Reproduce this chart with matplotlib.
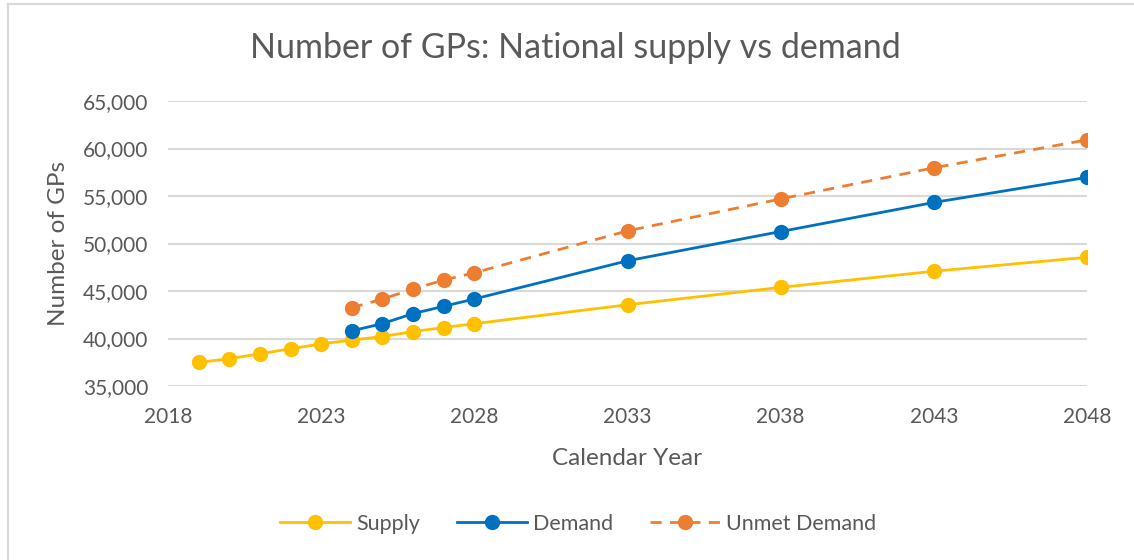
import matplotlib.pyplot as plt
from matplotlib.lines import Line2D
from matplotlib.ticker import FuncFormatter

# Dati
supply_years = [2019, 2020, 2021, 2022, 2023, 2024, 2025, 2026, 2027, 2028, 2033, 2038, 2043, 2048]
supply = [37480, 37870, 38390, 38920, 39440, 39830, 40210, 40730, 41150, 41560, 43550, 45380, 47080, 48550]

demand_years = [2024, 2025, 2026, 2027, 2028, 2033, 2038, 2043, 2048]
demand = [40800, 41570, 42620, 43390, 44160, 48180, 51260, 54320, 56960]
unmet = [43250, 44150, 45210, 46150, 46920, 51330, 54690, 57970, 60910]

x_ticks = [2018, 2023, 2028, 2033, 2038, 2043, 2048]
y_ticks = [35000, 40000, 45000, 50000, 55000, 60000, 65000]

plt.rcParams['font.family'] = ['Lato', 'DejaVu Sans']
grey_text = '#595959'

fig = plt.figure(figsize=(11.34, 5.6), dpi=100)
ax = fig.add_axes([168 / 1134, 1 - 386 / 560, (1087 - 168) / 1134, (386 - 101) / 560])

ax.plot(supply_years, supply, color='#FFC000', lw=2, marker='o', ms=10, label='Supply', zorder=3)
ax.plot(demand_years, demand, color='#0070C0', lw=2, marker='o', ms=10, label='Demand', zorder=4)
ax.plot(demand_years, unmet, color='#ED7D31', lw=2, marker='o', ms=10, ls=(0, (4, 3)),
        label='Unmet Demand', zorder=5)

ax.set_xlim(2018, 2048)
ax.set_ylim(35000, 65000)
ax.set_xticks(x_ticks)
ax.set_yticks(y_ticks)
ax.yaxis.set_major_formatter(FuncFormatter(lambda v, p: f'{int(v):,}'))
ax.tick_params(length=0, labelsize=15, colors=grey_text)
ax.tick_params(axis='y', pad=14)
ax.tick_params(axis='x', pad=15)
ax.grid(axis='y', color='#d9d9d9', lw=1.5, zorder=0)
for s in ax.spines.values():
    s.set_visible(False)
for lab in ax.get_xticklabels() + ax.get_yticklabels():
    lab.set_clip_on(False)

ax.set_xlabel('Calendar Year', fontsize=17.5, color=grey_text, labelpad=15)
ax.set_ylabel('Number of GPs', fontsize=17.5, color=grey_text, labelpad=10)

fig.text(575 / 1134, 1 - 48 / 560, 'Number of GPs: National supply vs demand',
         ha='center', va='center', fontsize=24.5, color=grey_text)

ax.legend(loc='center', bbox_to_anchor=(578 / 1134, 1 - 524 / 560), bbox_transform=fig.transFigure,
          ncol=3, frameon=False, fontsize=15.5, handlelength=3.25, columnspacing=1.7,
          labelcolor=grey_text, handletextpad=0.3)

# bordo dell'area del grafico
fig.add_artist(Line2D([8 / 1134, 8 / 1134], [0, 1 - 4 / 560], transform=fig.transFigure, color='#d9d9d9', lw=1.5))
fig.add_artist(Line2D([8 / 1134, 1], [1 - 4 / 560, 1 - 4 / 560], transform=fig.transFigure, color='#d9d9d9', lw=1.5))

fig.savefig('out.png', dpi=100)
